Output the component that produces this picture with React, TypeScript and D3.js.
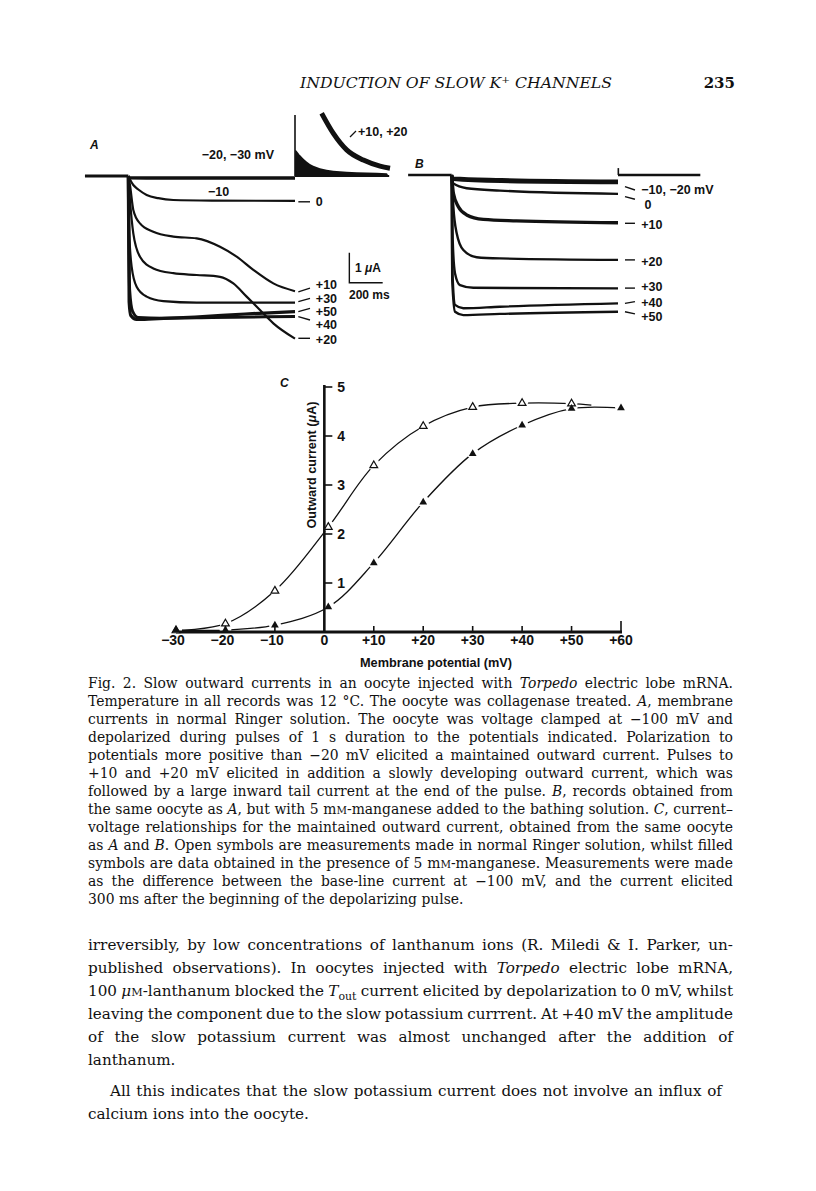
import React, { useLayoutEffect, useRef } from "react";
import * as d3 from "d3";

type Pt = [number, number];

// ---- panel A: normal Ringer. [ms from pulse onset, outward current µA]
const aBefore: Pt[] = [[-260, 0], [0, 0]];
const aAfter: Pt[] = [[1000, 0], [1565, 0]];
const aM20: Pt[] = [[0, 0], [5, 0.06], [500, 0.07], [1000, 0.07]];
const aZero: Pt[] = [[0, 0], [10, 0.12], [30, 0.3], [60, 0.45], [110, 0.63], [180, 0.74], [270, 0.8], [500, 0.82], [1000, 0.83]];
const aP10: Pt[] = [[0, 0], [10, 0.3], [30, 1.13], [70, 1.58], [150, 1.86], [270, 2.02], [410, 2.08], [550, 2.36], [650, 2.69], [750, 3.13], [870, 3.58], [1000, 3.84]];
const aP20: Pt[] = [[0, 0], [10, 0.8], [30, 1.91], [70, 2.69], [150, 3.08], [270, 3.24], [410, 3.3], [550, 3.36], [630, 3.58], [710, 4.02], [790, 4.47], [870, 4.91], [1000, 5.42]];
const aP30: Pt[] = [[0, 0], [6, 1.91], [20, 3.02], [50, 3.69], [110, 4.02], [210, 4.17], [410, 4.22], [1000, 4.22]];
const aP40: Pt[] = [[0, 0], [8, 3.8], [25, 4.5], [60, 4.72], [200, 4.74], [500, 4.72], [1000, 4.68]];
const aP50: Pt[] = [[0, 0], [5, 4.2], [15, 4.65], [50, 4.78], [150, 4.76], [400, 4.7], [700, 4.6], [1000, 4.52]];
const aTailFill: Pt[] = [[1000, 0], [1001, -0.87], [1030, -0.7], [1070, -0.48], [1150, -0.26], [1310, -0.14], [1550, -0.09], [1560, 0]];
const aTailBig: Pt[] = [[1160, -2.09], [1230, -1.42], [1310, -0.87], [1410, -0.53], [1510, -0.33], [1570, -0.26]];
const aSpikeTop = -2.03;

// label text, label level, leader start/end level (µA)
const aLabels: [string, number, number, number][] = [
  ["0", 0.86, 0.86, 0.86],
  ["+10", 3.63, 3.86, 3.74],
  ["+30", 4.1, 4.19, 4.08],
  ["+50", 4.52, 4.52, 4.41],
  ["+40", 4.97, 4.69, 4.8],
  ["+20", 5.47, 5.41, 5.41],
];

// ---- panel B: 5 mM manganese
const bBefore: Pt[] = [[-262, 0], [0, 0]];
const bAfter: Pt[] = [[1000, 0], [1495, 0]];
const bM10: Pt[] = [[0, 0], [10, 0.1], [300, 0.15], [1000, 0.2]];
const bM20: Pt[] = [[0, 0], [10, 0.15], [300, 0.22], [1000, 0.26]];
const bZero: Pt[] = [[0, 0], [10, 0.28], [90, 0.44], [290, 0.52], [1000, 0.63]];
const bP10: Pt[] = [[0, 0], [10, 0.61], [40, 1.06], [90, 1.33], [190, 1.48], [390, 1.53], [1000, 1.59]];
const bP20: Pt[] = [[0, 0], [10, 1.06], [30, 1.94], [70, 2.5], [150, 2.74], [290, 2.78], [1000, 2.83]];
const bP30: Pt[] = [[0, 0], [6, 2.17], [20, 3.28], [50, 3.67], [130, 3.76], [1000, 3.78]];
const bP40: Pt[] = [[0, 0], [3, 3.0], [20, 4.33], [70, 4.44], [290, 4.39], [1000, 4.28]];
const bP50: Pt[] = [[0, 0], [3, 3.5], [20, 4.56], [70, 4.67], [290, 4.63], [1000, 4.56]];
const bSpikeTop = -0.23;

const bLabels: [string, number, number, number][] = [
  ["\u221210, \u221220 mV", 0.5, 0.39, 0.5],
  ["0", 0.98, 0.72, 0.81],
  ["+10", 1.67, 1.61, 1.61],
  ["+20", 2.89, 2.83, 2.83],
  ["+30", 3.73, 3.77, 3.77],
  ["+40", 4.26, 4.28, 4.22],
  ["+50", 4.72, 4.56, 4.63],
];

// ---- panel C: I-V (mV, µA)
const openV = [-30, -20, -10, 0.8, 10, 20, 30, 40, 50];
const openI = [0.03, 0.17, 0.84, 2.14, 3.4, 4.2, 4.59, 4.67, 4.66];
const openCurveEnd: Pt = [54, 4.63];
const filledV = [-30, -20, -10, 0.8, 10, 20, 30, 40, 50, 60];
const filledI = [0.04, 0.04, 0.14, 0.51, 1.41, 2.65, 3.64, 4.22, 4.56, 4.57];
const cTicksX = [-30, -20, -10, 0, 10, 20, 30, 40, 50, 60];
const cTicksY = [1, 2, 3, 4, 5];

// ---- text
const caption = [
  "Fig. 2. Slow outward currents in an oocyte injected with *Torpedo* electric lobe mRNA.",
  "Temperature in all records was 12 \u00b0C. The oocyte was collagenase treated. *A*, membrane",
  "currents in normal Ringer solution. The oocyte was voltage clamped at \u2212100 mV and",
  "depolarized during pulses of 1 s duration to the potentials indicated. Polarization to",
  "potentials more positive than \u221220 mV elicited a maintained outward current. Pulses to",
  "+10 and +20 mV elicited in addition a slowly developing outward current, which was",
  "followed by a large inward tail current at the end of the pulse. *B*, records obtained from",
  "the same oocyte as *A*, but with 5 m{M}-manganese added to the bathing solution. *C*, current\u2013",
  "voltage relationships for the maintained outward current, obtained from the same oocyte",
  "as *A* and *B*. Open symbols are measurements made in normal Ringer solution, whilst filled",
  "symbols are data obtained in the presence of 5 m{M}-manganese. Measurements were made",
  "as the difference between the base-line current at \u2212100 mV, and the current elicited",
  "300 ms after the beginning of the depolarizing pulse.",
];

const body = [
  "irreversibly, by low concentrations of lanthanum ions (R. Miledi & I. Parker, un-",
  "published observations). In oocytes injected with *Torpedo* electric lobe mRNA,",
  "100 *\u03bc*{M}-lanthanum blocked the *T*_{out} current elicited by depolarization to 0 mV, whilst",
  "leaving the component due to the slow potassium currrent. At +40 mV the amplitude",
  "of the slow potassium current was almost unchanged after the addition of",
  "lanthanum.",
  "All this indicates that the slow potassium current does not involve an influx of",
  "calcium ions into the oocyte.",
];

const SANS = "'Liberation Sans', Arial, sans-serif";
const SERIF = "'DejaVu Serif', serif";

function rich(s: string) {
  const parts = s.split(/(\*[^*]+\*|\{M\}|_\{[^}]+\})/).filter((p) => p !== "");
  let shift = 0;
  return parts.map((p, i) => {
    const back = shift;
    shift = 0;
    if (p.startsWith("*"))
      return (
        <tspan key={i} fontStyle="italic" dy={-back || undefined}>
          {p.slice(1, -1)}
        </tspan>
      );
    if (p === "{M}")
      return (
        <tspan key={i} fontSize="0.74em" dy={-back || undefined}>
          M
        </tspan>
      );
    if (p.startsWith("_{")) {
      shift = 4;
      return (
        <tspan key={i} fontSize="0.72em" dy={4}>
          {p.slice(2, -1)}
        </tspan>
      );
    }
    return (
      <tspan key={i} dy={-back || undefined}>
        {p}
      </tspan>
    );
  });
}

const App = () => {
  const svgRef = useRef<SVGSVGElement>(null);

  // justify text lines by widening the word gaps
  useLayoutEffect(() => {
    const svg = svgRef.current;
    if (!svg) return;
    svg.querySelectorAll<SVGTextElement>("text[data-w]").forEach((t) => {
      t.style.wordSpacing = "0px";
      const w = +(t.getAttribute("data-w") || 0);
      const len = t.getComputedTextLength();
      const gaps = (t.textContent || "").split(" ").length - 1;
      if (gaps > 0) t.style.wordSpacing = (w - len) / gaps + "px";
    });
  }, []);

  // panel A/B scales: time (ms) and current (µA, outward drawn downward)
  const xA = d3.scaleLinear().domain([0, 1000]).range([128.3, 295]);
  const yA = d3.scaleLinear().domain([0, 1]).range([176, 206]);
  const xB = d3.scaleLinear().domain([0, 1000]).range([451.7, 618]);
  const yB = d3.scaleLinear().domain([0, 1]).range([175, 205]);

  const lineA = d3.line<Pt>().x((d) => xA(d[0])).y((d) => yA(d[1])).curve(d3.curveMonotoneX);
  const lineB = d3.line<Pt>().x((d) => xB(d[0])).y((d) => yB(d[1])).curve(d3.curveMonotoneX);
  const areaA = d3
    .area<Pt>()
    .x((d) => xA(d[0]))
    .y0(yA(0))
    .y1((d) => yA(d[1]))
    .curve(d3.curveMonotoneX);

  const xC = d3.scaleLinear().domain([-30, 60]).range([176, 621]);
  const yC = d3.scaleLinear().domain([0, 5]).range([632, 387]);
  const lineC = d3
    .line<Pt>()
    .x((d) => xC(d[0]))
    .y((d) => yC(d[1]))
    .curve(d3.curveCatmullRom.alpha(0.5));

  const openPts: Pt[] = openV.map((v, i) => [v, openI[i]]);
  const filledPts: Pt[] = filledV.map((v, i) => [v, filledI[i]]);
  const tri = d3.symbol().type(d3.symbolTriangle).size(26)();

  const tr = (d: Pt[], w: number, key: string, f = lineA) => (
    <path key={key} d={f(d) || ""} fill="none" stroke="#111" strokeWidth={w} strokeLinejoin="round" />
  );

  const fmtX = (v: number) => (v > 0 ? "+" + v : v < 0 ? "\u2212" + Math.abs(v) : "0");

  return (
    <svg
      ref={svgRef}
      width={816}
      height={1191}
      style={{ position: "absolute", left: 0, top: 0, background: "#fff" }}
    >
      <rect width={816} height={1191} fill="#fff" />

      {/* running head */}
      <text
        x={300}
        y={88}
        fontFamily={SERIF}
        fontStyle="italic"
        fontSize={15}
        fill="#111"
        textLength={312}
        lengthAdjust="spacingAndGlyphs"
      >
        INDUCTION OF SLOW K
        <tspan fontSize={10} dy={-5}>
          +
        </tspan>
        <tspan dy={5}> CHANNELS</tspan>
      </text>
      <text x={735} y={88} textAnchor="end" fontFamily={SERIF} fontWeight="bold" fontSize={15} fill="#111">
        235
      </text>

      {/* ---------- panel A ---------- */}
      <g fontFamily={SANS} fill="#111">
        <text x={90} y={145} dy="0.35em" fontStyle="italic" fontWeight="bold" fontSize={12}>
          A
        </text>
        {tr(aBefore, 3, "ab")}
        {tr(aAfter, 2, "aa")}
        <path d={areaA(aTailFill) || ""} fill="#111" />
        <line x1={xA(1000)} x2={xA(1000)} y1={yA(0)} y2={yA(aSpikeTop)} stroke="#111" strokeWidth={1.6} />
        <path d={lineA(aTailBig) || ""} fill="none" stroke="#111" strokeWidth={5} />
        {tr(aM20, 3.5, "am20")}
        {tr(aZero, 2.2, "a0")}
        {tr(aP10, 2.2, "a10")}
        {tr(aP20, 2.2, "a20")}
        {tr(aP30, 2.2, "a30")}
        {tr(aP40, 3, "a40")}
        {tr(aP50, 3.2, "a50")}

        <text x={201.7} y={155} dy="0.35em" fontSize={12.5} fontWeight="bold">
          {"\u221220, \u221230 mV"}
        </text>
        <text x={208} y={191.7} dy="0.35em" fontSize={12.5} fontWeight="bold">
          {"\u221210"}
        </text>
        <line x1={350} y1={137} x2={356} y2={131} stroke="#111" strokeWidth={1.2} />
        <text x={358} y={132} dy="0.35em" fontSize={12.5} fontWeight="bold">
          +10, +20
        </text>
        {aLabels.map(([t, v, d0, d1]) => (
          <g key={t}>
            <line x1={xA(1020)} x2={xA(1090)} y1={yA(d0)} y2={yA(d1)} stroke="#111" strokeWidth={1.4} />
            <text x={xA(1125)} y={yA(v)} dy="0.35em" fontSize={12.5} fontWeight="bold">
              {t}
            </text>
          </g>
        ))}

        {/* scale bar */}
        <path
          d={`M${xA(1326)},${yA(2.56)}V${yA(3.56)}H${xA(1526)}`}
          fill="none"
          stroke="#111"
          strokeWidth={1.4}
        />
        <text x={355} y={268} dy="0.35em" fontSize={12} fontWeight="bold">
          1 <tspan fontStyle="italic">{"\u03bc"}</tspan>A
        </text>
        <text x={349} y={295} dy="0.35em" fontSize={12} fontWeight="bold">
          200 ms
        </text>
      </g>

      {/* ---------- panel B ---------- */}
      <g fontFamily={SANS} fill="#111">
        <text x={415} y={164} dy="0.35em" fontStyle="italic" fontWeight="bold" fontSize={12}>
          B
        </text>
        {tr(bBefore, 2.6, "bb", lineB)}
        {tr(bAfter, 2.6, "ba", lineB)}
        <line x1={xB(1002)} x2={xB(1002)} y1={yB(0)} y2={yB(bSpikeTop)} stroke="#111" strokeWidth={1.6} />
        {tr(bM10, 3, "bm10", lineB)}
        {tr(bM20, 3, "bm20", lineB)}
        {tr(bZero, 2.4, "b0", lineB)}
        {tr(bP10, 3.4, "b10", lineB)}
        {tr(bP20, 2.4, "b20", lineB)}
        {tr(bP30, 2.4, "b30", lineB)}
        {tr(bP40, 2.4, "b40", lineB)}
        {tr(bP50, 2.4, "b50", lineB)}
        {bLabels.map(([t, v, d0, d1]) => (
          <g key={t}>
            <line x1={xB(1042)} x2={xB(1102)} y1={yB(d0)} y2={yB(d1)} stroke="#111" strokeWidth={1.4} />
            <text x={xB(t === "0" ? 1160 : 1140)} y={yB(v)} dy="0.35em" fontSize={12.5} fontWeight="bold">
              {t}
            </text>
          </g>
        ))}
      </g>

      {/* ---------- panel C ---------- */}
      <g fontFamily={SANS} fill="#111">
        <text x={280} y={383} dy="0.35em" fontStyle="italic" fontWeight="bold" fontSize={12}>
          C
        </text>
        <path d={lineC([...openPts, openCurveEnd]) || ""} fill="none" stroke="#111" strokeWidth={1.3} />
        <path d={lineC(filledPts) || ""} fill="none" stroke="#111" strokeWidth={1.3} />
        {/* white gaps around markers */}
        {[...openPts, ...filledPts].map((d, i) => (
          <circle key={"h" + i} cx={xC(d[0])} cy={yC(d[1]) - 1} r={6} fill="#fff" />
        ))}

        {/* axes */}
        <line x1={xC(0)} x2={xC(0)} y1={yC(0)} y2={yC(5) - 2} stroke="#111" strokeWidth={2.6} />
        <line x1={xC(-30)} x2={xC(60) + 1} y1={yC(0)} y2={yC(0)} stroke="#111" strokeWidth={2.8} />
        {cTicksY.map((v) => (
          <g key={"yt" + v}>
            <line x1={xC(0)} x2={xC(0) + 8} y1={yC(v)} y2={yC(v)} stroke="#111" strokeWidth={1.6} />
            <text x={xC(0) + 13} y={yC(v)} dy="0.35em" fontSize={14} fontWeight="bold">
              {v}
            </text>
          </g>
        ))}
        {cTicksX.map((v) => (
          <g key={"xt" + v}>
            {v !== 0 && v !== -30 && (
              <line
                x1={xC(v)}
                x2={xC(v)}
                y1={yC(0)}
                y2={yC(0) - (v === 60 ? 11 : 6)}
                stroke="#111"
                strokeWidth={1.6}
              />
            )}
            <text x={xC(v) - (v < 0 ? 3 : 0)} y={645} textAnchor="middle" fontSize={14} fontWeight="bold">
              {fmtX(v)}
            </text>
          </g>
        ))}
        <text
          x={436}
          y={667}
          textAnchor="middle"
          fontSize={12}
          fontWeight="bold"
          textLength={152}
          lengthAdjust="spacingAndGlyphs"
        >
          Membrane potential (mV)
        </text>
        <text
          transform={`translate(${xC(0) - 8},${465}) rotate(-90)`}
          textAnchor="middle"
          fontSize={12}
          fontWeight="bold"
          textLength={127}
          lengthAdjust="spacingAndGlyphs"
        >
          Outward current (<tspan fontStyle="italic">{"\u03bc"}</tspan>A)
        </text>

        {openPts.map((d, i) => (
          <path
            key={"o" + i}
            d={tri || ""}
            transform={`translate(${xC(d[0])},${yC(d[1])})`}
            fill="#fff"
            stroke="#111"
            strokeWidth={1.2}
          />
        ))}
        {filledPts.map((d, i) => (
          <path key={"f" + i} d={tri || ""} transform={`translate(${xC(d[0])},${yC(d[1])})`} fill="#111" />
        ))}
      </g>

      {/* ---------- caption ---------- */}
      <g fontFamily={SERIF} fontSize={13.9} fill="#111">
        {caption.map((s, i) => (
          <text key={"c" + i} x={88} y={688 + i * 18} data-w={i < caption.length - 1 ? 645 : undefined}>
            {rich(s)}
          </text>
        ))}
      </g>

      {/* ---------- body ---------- */}
      <g fontFamily={SERIF} fontSize={15.2} fill="#111">
        {body.map((s, i) => {
          const indent = i === 6 ? 110 : 88;
          const justify = i < 5 ? 645 : i === 6 ? 612 : undefined;
          return (
            <text key={"b" + i} x={indent} y={950 + i * 23 + (i >= 6 ? 8 : 0)} data-w={justify}>
              {rich(s)}
            </text>
          );
        })}
      </g>
    </svg>
  );
};

export default App;
